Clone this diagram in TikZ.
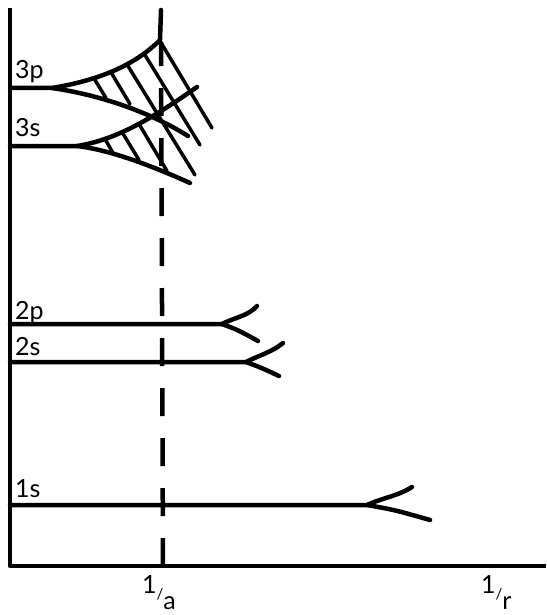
\documentclass[tikz,border=0pt]{standalone}
\usepackage{fontspec}
\setmainfont{Lato}
\tikzset{lvl/.style={line width=4.5pt, line cap=round}, hatchline/.style={line width=3.5pt, line cap=round},
	lab/.style={anchor=base west, inner sep=0pt}}
\newcommand{\recip}[1]{1\raisebox{-6pt}{\fontsize{15}{17}\selectfont/}\raisebox{-16pt}{#1}}
\begin{document}
\begin{tikzpicture}[x=1pt, y=-1pt, line join=round, font=\fontsize{25}{30}\selectfont]
	\useasboundingbox (0,0) rectangle (546,615);
	% axes and the 1/a line
	\draw[lvl, line cap=butt] (10,8) -- (10,566) -- (546,566);
	\draw[lvl, line cap=butt, dash pattern=on 28pt off 22pt] (163,566) -- (161,42);
	% n = 3, broadened into bands
	\draw[lvl] (10,88) -- (52,88) .. controls (100,80) and (135,65) .. (160,40) -- (161,10);
	\draw[lvl] (52,88) .. controls (100,95) and (150,112) .. (188,136);
	\draw[lvl] (10,146) -- (77,146) .. controls (115,140) and (150,120) .. (197,87);
	\draw[lvl] (77,146) .. controls (110,150) and (150,165) .. (190,183);
	\foreach \xa/\ya/\xb/\yb in {95/80/106/98, 112/74/130/104, 128/66/195/175, 145/55/200/145, 160/41/212/128}
		\draw[hatchline] (\xa,\ya) -- (\xb,\yb);
	\foreach \xa/\ya/\xb/\yb in {105/139/113/153, 122/132/139/160, 139/124/167/171}
		\draw[hatchline] (\xa,\ya) -- (\xb,\yb);
	% n = 2 and n = 1
	\draw[lvl] (10,324) -- (222,324) .. controls (236,317) and (248,316) .. (257,306);
	\draw[lvl] (222,324) .. controls (238,330) .. (258,341);
	\draw[lvl] (10,362) -- (246,362) .. controls (260,355) and (272,352) .. (283,343);
	\draw[lvl] (246,362) .. controls (262,368) .. (279,376);
	\draw[lvl] (10,505) -- (367,505) .. controls (382,498) and (398,496) .. (412,487);
	\draw[lvl] (367,505) .. controls (395,510) .. (430,520);
	% labels
	\node[lab] (l3p) at (15,79) {3p};
	\node[lab] (l3s) at (15,136) {3s};
	\node[lab] (l2p) at (15,319) {2p};
	\node[lab] (l2s) at (15,355) {2s};
	\node[lab] (l1s) at (15,497) {1s};
	\node[lab, font=\fontsize{25}{30}\selectfont] (ia) at (142,593) {\recip{a}};
	\node[lab, font=\fontsize{25}{30}\selectfont] (ir) at (481,593) {\recip{r}};
\end{tikzpicture}
\end{document}
